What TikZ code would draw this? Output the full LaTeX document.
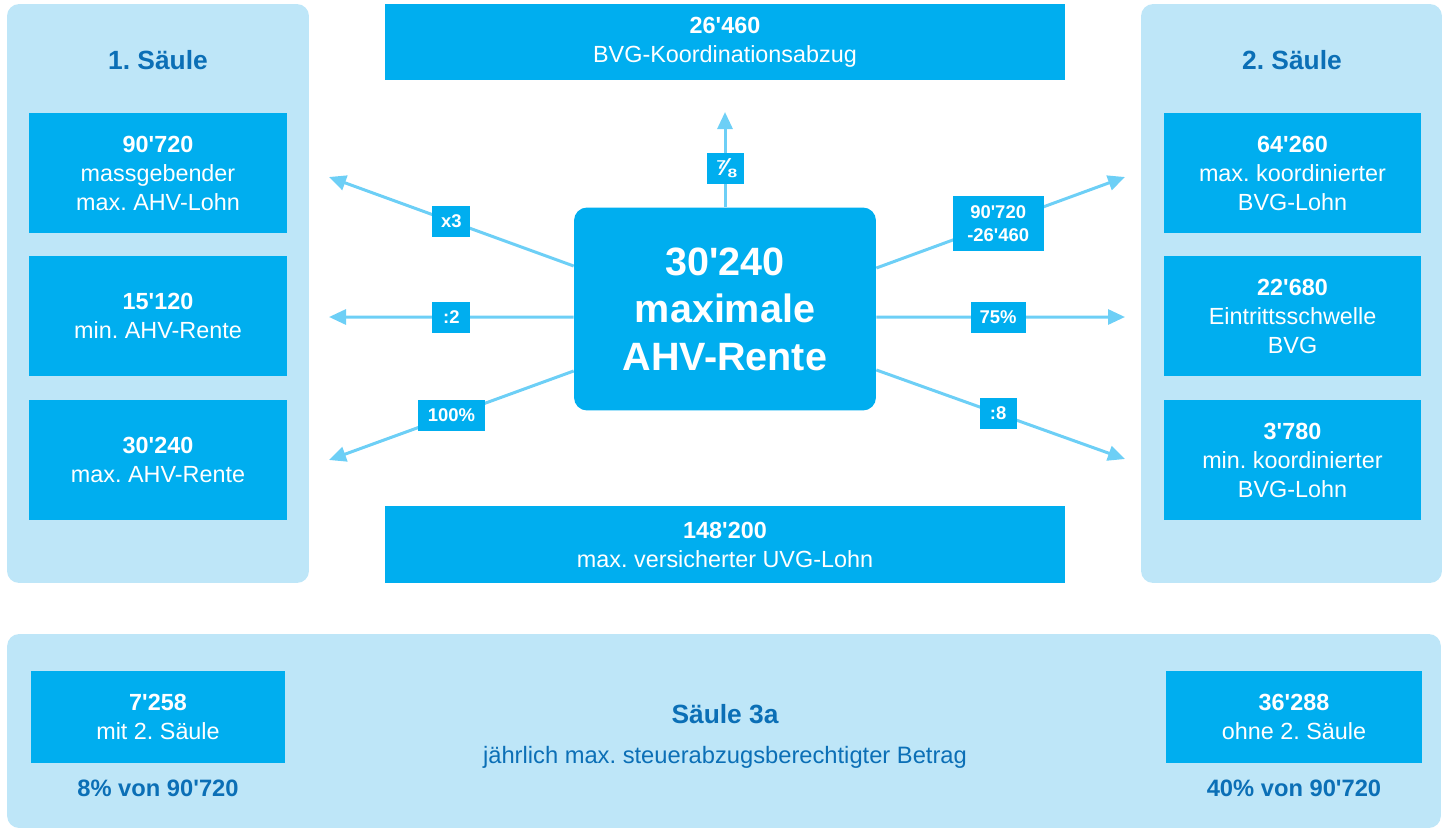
\documentclass[tikz,border=0pt]{standalone}
\usepackage{fontspec}
\setmainfont{Liberation Sans}[Ligatures=TeXOff]
\usetikzlibrary{arrows.meta,positioning}
\definecolor{boxblue}{HTML}{00AEEF}
\definecolor{panelblue}{HTML}{BEE6F8}
\definecolor{arrowblue}{HTML}{6DCFF6}
\definecolor{headblue}{HTML}{0B6FB6}
\newcommand{\wert}[1]{{\bfseries #1}}
\frenchspacing

\begin{document}
\begin{tikzpicture}[x=0.02cm,y=-0.02cm,
  panel/.style={fill=panelblue,rounded corners=0.24cm,inner sep=0pt},
  wertbox/.style={fill=boxblue,text=white,align=center,inner sep=0pt,
    font=\fontsize{13.3}{16.5}\selectfont},
  kopf/.style={text=headblue,font=\bfseries\fontsize{15}{18}\selectfont},
  faktor/.style={fill=boxblue,text=white,align=center,inner sep=0pt,
    minimum height=0.62cm,font=\bfseries\fontsize{10.5}{13}\selectfont},
  pfeil/.style={draw=arrowblue,line width=0.06cm,-{Triangle[length=0.34cm,width=0.3cm]}}]
\useasboundingbox (0,0) rectangle (1447,829);
% Saeulen
\node[panel,minimum width=6.04cm,minimum height=11.58cm] (saeule1) at (158,293.5) {};
\node[panel,minimum width=6.02cm,minimum height=11.58cm] (saeule2) at (1291.5,293.5) {};
\node[panel,minimum width=28.68cm,minimum height=3.88cm] (saeule3) at (724,731) {};
\node[kopf] (kopf1) at (158,60) {1. Säule};
\node[kopf] (kopf2) at (1292,60) {2. Säule};
% 1. Saeule
\node[wertbox,minimum width=5.16cm,minimum height=2.4cm] (ahvlohn) at (158,173) {\wert{90'720}\\massgebender\\max. AHV-Lohn};
\node[wertbox,minimum width=5.16cm,minimum height=2.4cm] (minrente) at (158,316) {\wert{15'120}\\min. AHV-Rente};
\node[wertbox,minimum width=5.16cm,minimum height=2.4cm] (maxrente) at (158,460) {\wert{30'240}\\max. AHV-Rente};
% 2. Saeule
\node[wertbox,minimum width=5.16cm,minimum height=2.4cm] (bvglohn) at (1292.5,173) {\wert{64'260}\\max. koordinierter\\BVG-Lohn};
\node[wertbox,minimum width=5.16cm,minimum height=2.4cm] (schwelle) at (1292.5,316) {\wert{22'680}\\Eintrittsschwelle\\BVG};
\node[wertbox,minimum width=5.16cm,minimum height=2.4cm] (minbvg) at (1292.5,460) {\wert{3'780}\\min. koordinierter\\BVG-Lohn};
% Mitte
\node[wertbox,minimum width=13.6cm,minimum height=1.54cm] (abzug) at (725,42) {\wert{26'460}\\BVG-Koordinationsabzug};
\node[wertbox,minimum width=13.6cm,minimum height=1.54cm] (uvglohn) at (725,544.5) {\wert{148'200}\\max. versicherter UVG-Lohn};
\node[wertbox,rounded corners=0.26cm,minimum width=6.04cm,minimum height=4.06cm,
  font=\bfseries\fontsize{22.5}{27}\selectfont] (rente) at (725,309) {30'240\\maximale\\AHV-Rente};
% Saeule 3a
\node[wertbox,minimum width=5.08cm,minimum height=1.84cm] (mit) at (158,717) {\wert{7'258}\\mit 2. Säule};
\node[wertbox,minimum width=5.12cm,minimum height=1.84cm] (ohne) at (1294,717) {\wert{36'288}\\ohne 2. Säule};
\node[kopf] (kopf3) at (725,714) {Säule 3a};
\node[text=headblue,font=\fontsize{13.5}{16}\selectfont] (betrag) at (725,757) {jährlich max. steuerabzugsberechtigter Betrag};
\node[text=headblue,font=\bfseries\fontsize{13.5}{16}\selectfont] (mitanteil) at (158,788) {8\% von 90'720};
\node[text=headblue,font=\bfseries\fontsize{13.5}{16}\selectfont] (ohneanteil) at (1294,788) {40\% von 90'720};
% Pfeile
\coordinate (oben) at (725,112);
\coordinate (linksoben) at (329,177);
\coordinate (links) at (329,317);
\coordinate (linksunten) at (329,460);
\coordinate (rechtsoben) at (1125,177);
\coordinate (rechts) at (1125,317);
\coordinate (rechtsunten) at (1125,459);
\draw[pfeil] (rente.north) -- (oben) node[faktor,pos=0.41,minimum width=0.74cm,font=\bfseries\fontsize{14}{16}\selectfont] (siebenachtel) {⅞};
\draw[pfeil] ([yshift=0.86cm]rente.west) -- (linksoben) node[faktor,pos=0.5,minimum width=0.76cm] (maldrei) {x3};
\draw[pfeil] ([yshift=-0.16cm]rente.west) -- (links) node[faktor,pos=0.5,minimum width=0.76cm] (durchzwei) {:2};
\draw[pfeil] ([yshift=-1.24cm]rente.west) -- (linksunten) node[faktor,pos=0.5,minimum width=1.34cm] (hundert) {100\%};
\draw[pfeil] ([yshift=0.82cm]rente.east) -- (rechtsoben) node[faktor,pos=0.49,minimum width=1.82cm,minimum height=1.1cm] (differenz) {90'720\\-26'460};
\draw[pfeil] ([yshift=-0.16cm]rente.east) -- (rechts) node[faktor,pos=0.49,minimum width=1.1cm] (dreiviertel) {75\%};
\draw[pfeil] ([yshift=-1.22cm]rente.east) -- (rechtsunten) node[faktor,pos=0.49,minimum width=0.74cm] (durchacht) {:8};
\end{tikzpicture}
\end{document}
